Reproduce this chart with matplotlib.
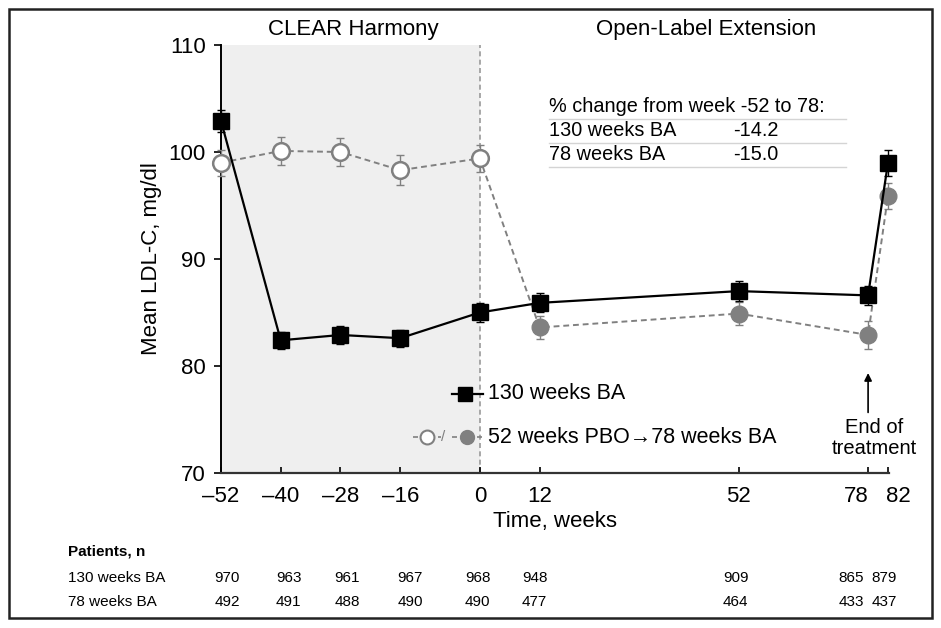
import matplotlib
matplotlib.use("Agg")
import matplotlib.pyplot as plt
import matplotlib.transforms as mtransforms
from matplotlib.lines import Line2D
from matplotlib.patches import Rectangle

plt.rcParams["font.family"] = ["Liberation Sans", "DejaVu Sans"]

# data
weeks = [-52, -40, -28, -16, 0, 12, 52, 78, 82]
ba130 = [102.9, 82.4, 82.9, 82.6, 85.0, 85.9, 87.0, 86.6, 99.0]
ba130_err = [1.0, 0.8, 0.8, 0.8, 0.9, 0.9, 0.9, 0.9, 1.2]
pbo = [99.0, 100.1, 100.0, 98.3, 99.4, 83.6, 84.9, 82.9, 95.9]
pbo_err = [1.2, 1.3, 1.3, 1.4, 1.3, 1.1, 1.1, 1.3, 1.2]
n_open = 5  # first five points are placebo (open circles)

tick_weeks = [-52, -40, -28, -16, 0, 12, 52, 78, 82]
yticks = [70, 80, 90, 100, 110]

n_ba130 = [970, 963, 961, 967, 968, 948, 909, 865, 879]
n_ba78 = [492, 491, 488, 490, 490, 477, 464, 433, 437]
n_offsets = [6, 8, 7, 10, -2, -5, -3, -17, -4]  # px nudges as in the source table

pct_rows = ["130 weeks BA", "78 weeks BA"]
pct_vals = ["-14.2", "-15.0"]

W, H = 941, 628
fig = plt.figure(figsize=(W / 100, H / 100), dpi=100)
ax = fig.add_axes([221 / W, 1 - 473 / H, 668 / W, 428 / H])

GRAY = "#808080"
ax.axvspan(-52, 0, color="#efefef", zorder=0, lw=0)
ax.axvline(0, color="#999999", ls=(0, (3, 2)), lw=1.2, zorder=1)

# 130 weeks BA
ax.errorbar(weeks, ba130, yerr=ba130_err, color="black", lw=1.6, marker="s",
            ms=11, mfc="black", mec="black", capsize=3, elinewidth=1,
            zorder=5, clip_on=False)

# PBO -> BA: one dashed line, open markers then filled markers
ax.errorbar(weeks, pbo, yerr=pbo_err, color=GRAY, lw=1.4, ls=(0, (3, 2)),
            marker=None, capsize=3, elinewidth=1, zorder=3, clip_on=False)
ax.plot(weeks[:n_open], pbo[:n_open], ls="none", marker="o", ms=12,
        mfc="white", mec=GRAY, mew=1.8, zorder=4, clip_on=False)
ax.plot(weeks[n_open:], pbo[n_open:], ls="none", marker="o", ms=12,
        mfc=GRAY, mec=GRAY, zorder=4, clip_on=False)

ax.set_xlim(-52, 82.2)
ax.set_ylim(70, 110)
ax.set_xticks(tick_weeks)
ax.set_xticklabels([str(t).replace("-", "\u2013") for t in tick_weeks])
ax.set_yticks(yticks)
ax.tick_params(labelsize=16)
ax.tick_params(axis="y", length=5, width=1.2, pad=6)
ax.tick_params(axis="x", direction="in", length=4, width=1.2, pad=9)
for s in ["top", "right"]:
    ax.spines[s].set_visible(False)
ax.spines["left"].set_linewidth(1.4)
ax.spines["bottom"].set_linewidth(1.6)
ax.spines["bottom"].set_color("#333333")

# spread the crowded 78 / 82 labels like the source
shifts = {78: -12, 82: 10}
for t, lab in zip(tick_weeks, ax.get_xticklabels()):
    if t in shifts:
        lab.set_transform(lab.get_transform() + mtransforms.ScaledTranslation(
            shifts[t] / 100, 0, fig.dpi_scale_trans))

ax.set_xlabel("Time, weeks", fontsize=16, labelpad=3)
ax.set_ylabel("Mean LDL-C, mg/dl", fontsize=16, labelpad=5)

# period headers
tr = mtransforms.blended_transform_factory(ax.transData, ax.transAxes)
ax.text(-25.5, 1.037, "CLEAR Harmony", transform=tr, ha="center", va="center", fontsize=16)
ax.text(45.5, 1.037, "Open-Label Extension", transform=tr, ha="center", va="center", fontsize=16)

# end of treatment arrow
ax.annotate("", xy=(78, 79.6), xytext=(78, 75.4),
            arrowprops=dict(arrowstyle="-|>", color="black", lw=1.2, mutation_scale=11))
ax.text(79.2, 73.3, "End of\ntreatment", ha="center", va="center", fontsize=14.5,
        linespacing=1.15)

# hand-drawn legend (in axes fraction)
ta = ax.transAxes
ly1, ly2 = 0.185, 0.084
ax.plot([0.346, 0.392], [ly1, ly1], color="black", lw=1.6, transform=ta, clip_on=False)
ax.plot([0.366], [ly1], marker="s", ms=10, color="black", transform=ta, clip_on=False)
ax.text(0.400, ly1, "130 weeks BA", transform=ta, va="center", ha="left", fontsize=15.5)
ax.plot([0.288, 0.33], [ly2, ly2], color=GRAY, lw=1.2, ls=(0, (3, 2)), transform=ta, clip_on=False)
ax.plot([0.308], [ly2], marker="o", ms=10, mfc="white", mec=GRAY, mew=1.5, transform=ta, clip_on=False)
ax.text(0.333, ly2, "/", transform=ta, va="center", ha="center", fontsize=11, color=GRAY)
ax.plot([0.346, 0.392], [ly2, ly2], color=GRAY, lw=1.2, ls=(0, (3, 2)), transform=ta, clip_on=False)
ax.plot([0.368], [ly2], marker="o", ms=10, color=GRAY, transform=ta, clip_on=False)
ax.text(0.400, ly2, "52 weeks PBO\u219278 weeks BA", transform=ta, va="center", ha="left", fontsize=15.5)


# % change box (figure pixels)
def fx(px):
    return px / W


def fy(py):
    return 1 - py / H


fig.text(fx(549), fy(107), "% change from week -52 to 78:", fontsize=14.3, va="center")
for py in [119, 143, 167]:
    fig.add_artist(Line2D([fx(549), fx(846)], [fy(py), fy(py)], color="#d4d4d4", lw=1))
for i, (lab, val) in enumerate(zip(pct_rows, pct_vals)):
    fig.text(fx(549), fy(131 + 24 * i), lab, fontsize=14.3, va="center")
    fig.text(fx(733), fy(131 + 24 * i), val, fontsize=14.3, va="center")

# patients table under the axis
fig.text(fx(68), fy(552), "Patients, n", fontsize=11, fontweight="bold", va="center")
row_tr = mtransforms.blended_transform_factory(ax.transData, fig.transFigure)
for lab, counts, py in [("130 weeks BA", n_ba130, 578), ("78 weeks BA", n_ba78, 602)]:
    fig.text(fx(68), fy(py), lab, fontsize=11, va="center")
    for wk, c, off in zip(weeks, counts, n_offsets):
        t = mtransforms.offset_copy(row_tr, fig=fig, x=off, y=0, units="dots")
        fig.text(wk, fy(py), str(c), transform=t, fontsize=11, ha="center", va="center")

# outer frame
fig.add_artist(Rectangle((fx(9), fy(618)), fx(932) - fx(9), fy(9) - fy(618),
                         transform=fig.transFigure, fill=False, ec="#222222", lw=1.8))

fig.savefig("out.png", dpi=100)
